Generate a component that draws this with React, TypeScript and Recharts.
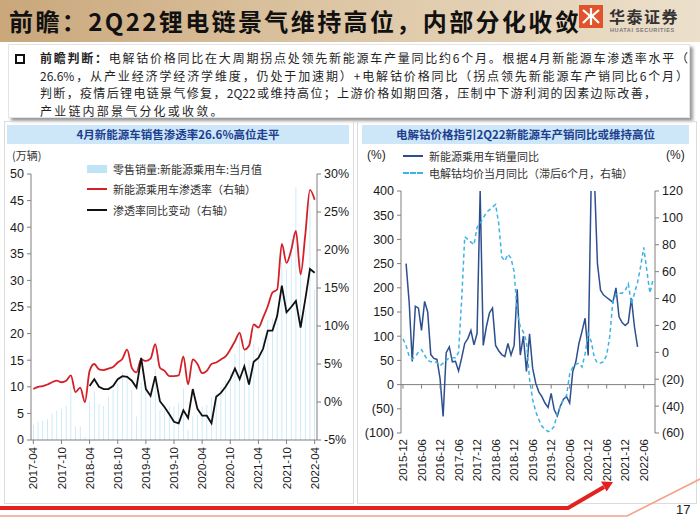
import { Bar, ComposedChart, Line, LineChart, ReferenceLine, XAxis, YAxis } from "recharts"

const CJK = '"Noto Sans CJK SC", "Noto Sans", sans-serif'
const LATIN = '"Liberation Sans", Arial, sans-serif'

function months(startYear: number, startMonth: number, count: number): string[] {
  const out: string[] = []
  for (let k = 0; k < count; k++) {
    const t = startYear * 12 + (startMonth - 1) + k
    const y = Math.floor(t / 12)
    const m = (t % 12) + 1
    out.push(`${y}-${m < 10 ? "0" + m : m}`)
  }
  return out
}

// left chart: 2017-04 .. 2022-04
const LEFT_MONTHS = months(2017, 4, 61)
// 零售销量:新能源乘用车:当月值 (万辆)
const NEV_RETAIL = [
  2.8, 3.4, 3.6, 3.9, 5.0, 5.5, 5.9, 6.4, 10.0, 2.6, 2.6, 0.5,
  7.2, 9.1, 6.8, 6.4, 8.1, 9.4, 10.6, 12.8, 12.5, 9.4, 4.4, 10.9,
  9.7, 9.1, 13.4, 5.6, 5.6, 6.3, 6.3, 6.9, 9.7, 1.9, 4.4, 4.7,
  6.3, 6.6, 8.1, 8.8, 10.0, 11.3, 12.8, 16.3, 20.6, 16.9, 15.0, 18.1,
  17.5, 19.4, 22.5, 22.8, 24.6, 33.4, 32.1, 37.8, 47.5, 34.1, 24.5, 44.5,
  28.2,
]
// 新能源乘用车渗透率 (%)
const PENETRATION = [
  1.7, 2.0, 2.1, 2.3, 2.6, 2.8, 2.6, 2.8, 3.5, 1.3, 1.9, 0.0,
  4.1, 5.0, 4.3, 4.2, 4.4, 4.6, 5.2, 5.7, 6.9, 4.5, 3.9, 5.6,
  5.4, 5.7, 7.6, 4.5, 4.1, 3.4, 3.4, 3.5, 6.0, 2.3, 5.6, 5.0,
  3.8, 4.1, 5.0, 5.2, 5.6, 6.0, 6.9, 8.0, 9.1, 6.9, 7.4, 10.2,
  9.8, 11.1, 12.6, 14.4, 14.8, 20.8, 18.3, 20.0, 22.5, 16.8, 22.0, 27.9,
  26.6,
]
// 渗透率同比变动 (pct)
const PENETRATION_YOY = [
  null, null, null, null, null, null, null, null, null, null, null, null,
  2.1, 3.0, 2.0, 1.7, 1.7, 2.1, 3.0, 3.4, 3.3, 2.8, 1.9, 5.8,
  1.7, 0.8, 3.4, 0.1, -0.7, -1.6, -2.6, -2.8, -1.1, -2.1, 1.7, -0.9,
  -1.8, -1.8, -2.8, 0.7, 1.2, 2.0, 3.0, 4.4, 3.0, 4.7, 2.3, 5.3,
  5.8, 7.0, 9.4, 9.4, 11.3, 15.3, 11.8, 12.5, 13.3, 9.8, 13.5, 17.5,
  17.0,
]
const LEFT_TICKS = [0, 5, 10, 15, 20, 25, 30, 35, 40, 45, 50]
const LEFT_PCT_TICKS = [-5, 0, 5, 10, 15, 20, 25, 30]

// right chart: 2015-12 .. 2022-09
const RIGHT_MONTHS = months(2015, 12, 82)
// 新能源乘用车销量同比 (%)
const NEV_SALES_YOY = [
  null, 250, 170, 48, 162, 158, 112, 172, 150, 62, 54, 52,
  13, -66, 66, 78, 47, 48, 28, 55, 85, 95, 112, 82,
  106, 400, 81, 119, 148, 158, 81, 70, 62, 58, 85, 61,
  81, 197, 61, 100, 27, 105, 34, 3, -15, -25, -38, -47,
  -18, -52, -65, -44, -30, -25, -38, 27, 47, 85, 110, 137,
  60, 430, 430, 250, 195, 185, 180, 175, 170, 200, 140, 128,
  122, 128, 178, 119, 78, null, null, null, null, null,
]
// 电解钴均价当月同比 (滞后6个月) (%)
const COBALT_YOY = [
  10, 5, -3, -5, -3, 0, 2, -2, -6, -7, -7, -7.5,
  -10, -8, -6, -4, -4, -4, 0, 39, 86, 84, 82, 80,
  93, 96, 100, 104, 106, 108, 110, 96, 71, 68, 73, 70,
  60, 30, 19, 15, 8, -20, -35, -44, -50, -55, -57, -59,
  -58, -55, -45, -40, -35, -32, -16, -11, -9, -8, -11, -1,
  14, 8, -4, -8, -8, -7, -2, 12, 38, 43, 44, 44,
  46, 51, 36, 44, 52, 64, 78, 61, 44, 54,
]
const RIGHT_TICKS = [-100, -50, 0, 50, 100, 150, 200, 250, 300, 350, 400]
const RIGHT_PCT_TICKS = [-60, -40, -20, 0, 20, 40, 60, 80, 100, 120]

const leftData = LEFT_MONTHS.map((month, i) => ({
  month,
  retail: NEV_RETAIL[i],
  rate: PENETRATION[i],
  yoy: PENETRATION_YOY[i],
}))

const rightData = RIGHT_MONTHS.map((month, i) => ({
  month,
  sales: NEV_SALES_YOY[i],
  cobalt: COBALT_YOY[i],
}))

const paren = (v: number) => (v < 0 ? `(${-v})` : `${v}`)

const AXIS = "#7f7f7f"
const tickStyle = { fontSize: 12.5, fill: "#1a1a1a", fontFamily: LATIN }

// right chart plot geometry (svg coords) used for the zero-line tick marks
const R_TOP = 21
const R_PLOT_H = 242
const R_ZERO_Y = R_TOP + (R_PLOT_H * 400) / 500

function MonthTick(props: any) {
  const { x, y, payload } = props
  return (
    <g transform={`translate(${x},${y})`}>
      <text transform="rotate(-90)" textAnchor="end" x={-1} dy="0.35em" fontSize={11.5} fill="#1a1a1a" fontFamily={LATIN}>
        {payload.value}
      </text>
    </g>
  )
}

function ZeroLineTick(props: any) {
  const { x, y, payload } = props
  return (
    <g>
      <line x1={x} x2={x} y1={R_ZERO_Y} y2={R_ZERO_Y + 4} stroke={AXIS} />
      <g transform={`translate(${x},${y})`}>
        <text transform="rotate(-90)" textAnchor="end" x={-6} dy="0.35em" fontSize={11.5} fill="#1a1a1a" fontFamily={LATIN}>
          {payload.value}
        </text>
      </g>
    </g>
  )
}

function LegendRow({ top, left, swatch, label }: { top: number; left: number; swatch: any; label: string }) {
  return (
    <div style={{ position: "absolute", top, left, display: "flex", alignItems: "center", height: 14 }}>
      <div style={{ width: 20, display: "flex", alignItems: "center" }}>{swatch}</div>
      <span style={{ marginLeft: 6, fontSize: 11, color: "#333", fontFamily: CJK, whiteSpace: "nowrap" }}>{label}</span>
    </div>
  )
}

function LeftChart() {
  return (
    <div style={{ position: "absolute", left: 0, top: 160 }}>
      <ComposedChart width={356} height={340} data={leftData} margin={{ top: 14, right: 0, bottom: 0, left: 0 }} barCategoryGap="42%">
        <XAxis dataKey="month" interval={5} height={60} tickSize={4} axisLine={{ stroke: AXIS }} tickLine={{ stroke: AXIS }} tick={(p: any) => <MonthTick {...p} />} />
        <YAxis yAxisId="l" width={31} domain={[0, 50]} ticks={LEFT_TICKS} tickSize={4} tickMargin={3} axisLine={{ stroke: AXIS }} tickLine={{ stroke: AXIS }} tick={tickStyle} interval={0} />
        <YAxis yAxisId="r" orientation="right" width={39} domain={[-5, 30]} ticks={LEFT_PCT_TICKS} tickSize={4} tickMargin={3} axisLine={{ stroke: AXIS }} tickLine={{ stroke: AXIS }} tick={tickStyle} tickFormatter={(v: number) => `${v}%`} interval={0} />
        <Bar yAxisId="l" dataKey="retail" fill="#bfe4f7" isAnimationActive={false} />
        <Line yAxisId="r" dataKey="rate" type="monotone" stroke="#d42027" strokeWidth={1.8} dot={false} isAnimationActive={false} />
        <Line yAxisId="r" dataKey="yoy" type="linear" stroke="#111111" strokeWidth={1.8} dot={false} isAnimationActive={false} />
      </ComposedChart>
      <LegendRow top={2} left={87} swatch={<div style={{ width: 20, height: 8, background: "#bfe4f7" }} />} label="零售销量:新能源乘用车:当月值" />
      <LegendRow top={22} left={87} swatch={<div style={{ width: 20, height: 2, background: "#d42027" }} />} label="新能源乘用车渗透率（右轴）" />
      <LegendRow top={43} left={87} swatch={<div style={{ width: 20, height: 2, background: "#111" }} />} label="渗透率同比变动（右轴）" />
      <div style={{ position: "absolute", left: 12, top: -13, fontSize: 11, fontFamily: CJK, color: "#333" }}>(万辆)</div>
    </div>
  )
}

function RightChart() {
  return (
    <div style={{ position: "absolute", left: 360, top: 170 }}>
      <LineChart width={340} height={330} data={rightData} margin={{ top: R_TOP, right: 0, bottom: 0, left: 0 }}>
        <XAxis dataKey="month" interval={5} height={67} tickSize={0} tickMargin={0} axisLine={false} tickLine={false} padding={{ left: 2, right: 2 }} tick={(p: any) => <ZeroLineTick {...p} />} />
        <YAxis yAxisId="l" width={41} domain={[-100, 400]} ticks={RIGHT_TICKS} allowDataOverflow tickSize={4} tickMargin={3} axisLine={{ stroke: AXIS }} tickLine={{ stroke: AXIS }} tick={tickStyle} tickFormatter={paren} interval={0} />
        <YAxis yAxisId="r" orientation="right" width={45} domain={[-60, 120]} ticks={RIGHT_PCT_TICKS} tickSize={4} tickMargin={3} axisLine={{ stroke: AXIS }} tickLine={{ stroke: AXIS }} tick={tickStyle} tickFormatter={paren} interval={0} />
        <ReferenceLine yAxisId="l" y={0} stroke={AXIS} />
        <Line yAxisId="l" dataKey="sales" type="linear" stroke="#2d4f8e" strokeWidth={1.5} dot={false} isAnimationActive={false} />
        <Line yAxisId="r" dataKey="cobalt" type="linear" stroke="#3bb3e5" strokeWidth={1.5} strokeDasharray="4 3" dot={false} isAnimationActive={false} />
      </LineChart>
      <LegendRow top={-21} left={43} swatch={<div style={{ width: 20, height: 2, background: "#2d4f8e" }} />} label="新能源乘用车销量同比" />
      <LegendRow top={-4} left={43} swatch={<div style={{ width: 20, height: 0, borderTop: "2px dashed #3bb3e5" }} />} label="电解钴均价当月同比（滞后6个月，右轴）" />
      <div style={{ position: "absolute", left: 7, top: -22, fontSize: 12, fontFamily: LATIN, color: "#222" }}>(%)</div>
      <div style={{ position: "absolute", left: 306, top: -22, fontSize: 12, fontFamily: LATIN, color: "#222" }}>(%)</div>
    </div>
  )
}

// each body line is justified to the width it takes in the slide
const bodyLine = {
  position: "absolute" as const,
  left: 40,
  fontSize: 12,
  fontFamily: CJK,
  color: "#1f1f1f",
  lineHeight: "17px",
  textAlign: "justify" as const,
  textAlignLast: "justify" as const,
}

export default function App() {
  return (
    <div style={{ position: "absolute", left: 0, top: 0, width: 700, height: 525, background: "#fff", overflow: "hidden" }}>
      {/* header */}
      <div style={{ position: "absolute", left: 0, top: 0, width: 700, height: 42, background: "linear-gradient(90deg, #c9a77b 0%, #dcc4a2 45%, #ece0cc 100%)" }} />
      <div style={{ position: "absolute", left: 9, top: 0, height: 42, lineHeight: "42px", fontSize: 24, fontWeight: 700, letterSpacing: 2.4, fontFamily: CJK, color: "#111", whiteSpace: "nowrap" }}>
        前瞻：2Q22锂电链景气维持高位，内部分化收敛
      </div>
      <svg style={{ position: "absolute", left: 579, top: 5 }} width={24} height={23}>
        <rect width={24} height={23} fill="#e1532b" />
        <path d="M4 5 L11 11 L4 18 M20 5 L13 11 L20 18 M12 3 L12 20" stroke="#fff" strokeWidth={2.2} fill="none" />
      </svg>
      <div style={{ position: "absolute", left: 609, top: 4, fontSize: 16, fontWeight: 700, letterSpacing: 1.5, fontFamily: CJK, color: "#333", whiteSpace: "nowrap" }}>华泰证券</div>
      <div style={{ position: "absolute", left: 610, top: 27, fontSize: 5.5, fontWeight: 700, letterSpacing: 0.6, fontFamily: LATIN, color: "#777", whiteSpace: "nowrap" }}>HUATAI SECURITIES</div>

      {/* summary box */}
      <div style={{ position: "absolute", left: 8, top: 44, width: 680, height: 72, background: "#fff", boxShadow: "3px 3px 3px #9a9a9a", border: "1px solid #e4e4e4" }} />
      <div style={{ position: "absolute", left: 15, top: 54, width: 6, height: 6, border: "2px solid #111" }} />
      <div style={{ ...bodyLine, top: 49, width: 648 }}>
        <b>前瞻判断：</b>电解钴价格同比在大周期拐点处领先新能源车产量同比约6个月。根据4月新能源车渗透率水平（
      </div>
      <div style={{ ...bodyLine, top: 66.5, width: 648 }}>
        26.6%，从产业经济学经济学维度，仍处于加速期）+电解钴价格同比（拐点领先新能源车产销同比6个月）
      </div>
      <div style={{ ...bodyLine, top: 84, width: 616 }}>
        判断，疫情后锂电链景气修复，2Q22或维持高位；上游价格如期回落，压制中下游利润的因素边际改善，
      </div>
      <div style={{ ...bodyLine, top: 101.5, textAlign: "left", textAlignLast: "auto", letterSpacing: 2.2, whiteSpace: "nowrap" }}>产业链内部景气分化或收敛。</div>

      {/* panels */}
      <div style={{ position: "absolute", left: 4, top: 121, width: 348, height: 381, border: "1px solid #dcdcdc" }} />
      <div style={{ position: "absolute", left: 357, top: 121, width: 338, height: 381, border: "1px solid #dcdcdc" }} />
      <div style={{ position: "absolute", left: 7, top: 125, width: 342, height: 19, background: "#cde7f9", textAlign: "center", lineHeight: "19px", fontSize: 11.5, fontWeight: 700, fontFamily: CJK, color: "#1d3f8f" }}>
        4月新能源车销售渗透率26.6%高位走平
      </div>
      <div style={{ position: "absolute", left: 362, top: 125, width: 327, height: 19, background: "#cde7f9", textAlign: "center", lineHeight: "19px", fontSize: 11.5, fontWeight: 700, fontFamily: CJK, color: "#1d3f8f" }}>
        电解钴价格指引2Q22新能源车产销同比或维持高位
      </div>

      <LeftChart />
      <RightChart />

      {/* footer */}
      <svg style={{ position: "absolute", left: 0, top: 0, pointerEvents: "none" }} width={700} height={525}>
        <polyline points="0,516 627,516 700,479" fill="none" stroke="#f2a388" strokeWidth={1.6} />
        <polyline points="0,508 568,508 604,487" fill="none" stroke="#e3211e" strokeWidth={4} />
        <polygon points="613,482 606.7,491.5 601,481.5" fill="#e3211e" />
      </svg>
      <div style={{ position: "absolute", left: 676, top: 502, fontSize: 13, fontFamily: LATIN, color: "#222" }}>17</div>
    </div>
  )
}
